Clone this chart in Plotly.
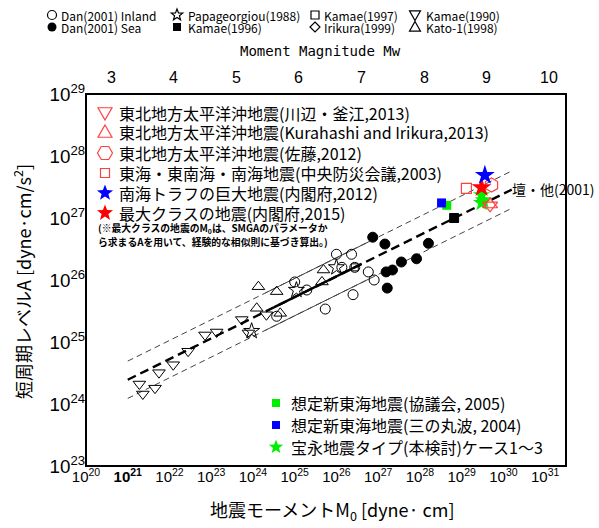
import numpy as np
import plotly.graph_objects as go

W, H = 599, 528
# plot frame in pixels
PX0, PX1 = 86, 566
PY0, PY1 = 94, 466

CJK = "Noto Sans CJK JP"
SANS = "Liberation Sans"
MONO = "DejaVu Sans Mono"

# ---------------- data ----------------
# Dan (2001) inland earthquakes
inland_m0 = [3.7e24, 1.0e25, 1.95e25, 5.4e25, 1.0e26, 2.3e26, 1.35e26, 2.75e26, 2.5e26, 5.8e26, 8.0e26]
inland_a = [2.6e25, 9.3e25, 6.9e25, 3.4e25, 2.6e26, 2.6e26, 1.6e26, 1.6e26, 5.8e25, 1.35e26, 1.0e26]
# Dan (2001) subduction (sea) earthquakes
sea_m0 = [7.4e26, 1.45e27, 1.6e28, 3.6e27, 8.3e27, 1.55e27, 2.2e27, 1.65e27]
sea_a = [4.9e26, 3.8e26, 3.9e26, 1.95e26, 2.2e26, 1.35e26, 1.45e26, 7.4e25]
# Papageorgiou (1988)
papa_m0 = [9.3e23, 1.1e25, 1.0e26]
papa_a = [1.5e25, 6.9e25, 1.6e26]
# Kato-1 (1998)
kato_m0 = [1.35e24, 1.23e24, 3.7e24, 4.5e24, 4.9e25, 4.5e25]
kato_a = [7.8e25, 3.5e25, 6.5e25, 2.9e25, 1.45e26, 9.3e25]
# Kamae (1990)
kamae90_m0 = [1.9e21, 2.3e21, 4.5e21, 5.6e21, 1.23e22, 2.8e22, 7.1e22, 1.35e23, 5.4e23, 7.8e23, 2.1e24]
kamae90_a = [2.1e24, 1.45e24, 1.8e24, 3.2e24, 4.3e24, 7.1e24, 1.3e25, 1.45e25, 2.3e25, 1.4e25, 2.75e25]
# Kamae (1997)
kamae97_m0 = [2.75e26]
kamae97_a = [1.6e26]
# Kamae (1996)
kamae96_m0 = [6.6e28]
kamae96_a = [1.0e27]

# large subduction events / scenarios
tohoku_kk_m0, tohoku_kk_a = [4.8e29], [1.6e27]      # 川辺・釜江 2013
tohoku_ki_m0, tohoku_ki_a = [4.8e29], [1.65e27]     # Kurahashi and Irikura 2013
tohoku_sato_m0, tohoku_sato_a = [5.2e29], [3.4e27]  # 佐藤 2012
chuo_m0, chuo_a = [1.3e29], [3.0e27]                # 中央防災会議 2003
cab2012_m0, cab2012_a = [3.6e29], [4.9e27]          # 内閣府 2012
cab2015_m0, cab2015_a = [3.0e29], [3.1e27]          # 内閣府 2015
kyogikai_m0, kyogikai_a = [4.4e28], [1.6e27]        # 協議会 2005
sannomaru_m0, sannomaru_a = [3.3e28], [1.75e27]     # 三の丸波 2004
hoei_m0 = [3.0e29, 3.3e29, 3.0e29]                  # 本検討 ケース1～3
hoei_a = [2.35e27, 1.95e27, 1.75e27]

# Dan et al. (2001): A = 2.46e17 * M0^(1/3), with factor-2 bounds
DAN_COEF = 2.46e17
DAN_FACTOR = 2.0
line_log_range = (21.0, 30.2)
solid_center = (24.5, 26.6)
solid_bounds = (24.3, 26.8)

# axes
log_x_range = [20, 31.5]
log_y_range = [23, 29]
x_tick_exp = list(range(20, 32))
x_tick_text = ["10<sup>%d</sup>" % k for k in x_tick_exp]
x_tick_text[1] = "<b>10<sup>21</sup></b>"
mw_ticks = list(range(3, 11))

RED_LT = "#ff4040"
GREEN = "#00ee00"
BLUE = "#0000ff"
RED = "#ff0000"
FRAME = "black"


def dan(m0, factor=1.0):
    return DAN_COEF * np.asarray(m0) ** (1.0 / 3.0) * factor


def seg(lo, hi):
    return np.logspace(lo, hi, 30)


def mw_to_logm0(mw):
    # Kanamori: log10 M0[dyne-cm] = 1.5 Mw + 16.1
    return 1.5 * mw + 16.1


fig = go.Figure()


def add(x, y, symbol, size, color="black", lw=1.0):
    fig.add_trace(go.Scatter(x=x, y=y, mode="markers", showlegend=False, cliponaxis=False,
                             marker=dict(symbol=symbol, size=size, color=color,
                                         line=dict(width=lw, color=color))))


def add_line(x, y, width, color, dash):
    fig.add_trace(go.Scatter(x=x, y=y, mode="lines", showlegend=False, hoverinfo="skip",
                             line=dict(width=width, color=color, dash=dash)))


# empirical relation lines
full = seg(*line_log_range)
add_line(full, dan(full, DAN_FACTOR), 1.0, "#444444", "6px,4px")
add_line(full, dan(full, 1 / DAN_FACTOR), 1.0, "#444444", "6px,4px")
add_line(full, dan(full), 2.4, "black", "9px,5px")
sb = seg(*solid_bounds)
add_line(sb, dan(sb, DAN_FACTOR), 1.0, "#444444", "solid")
add_line(sb, dan(sb, 1 / DAN_FACTOR), 1.0, "#444444", "solid")
sc = seg(*solid_center)
add_line(sc, dan(sc), 2.4, "black", "solid")

# catalogue data
add(kamae90_m0, kamae90_a, "triangle-down-open", 11)
add(kato_m0, kato_a, "triangle-up-open", 11)
add(papa_m0, papa_a, "star-open", 12)
add(inland_m0, inland_a, "circle-open", 10)
add(kamae97_m0, kamae97_a, "square-open", 7)
add(sea_m0, sea_a, "circle", 10)
add(kamae96_m0, kamae96_a, "square", 9)

# scenarios and large events
add(hoei_m0, hoei_a, "star", 13, GREEN, 0)
add(kyogikai_m0, kyogikai_a, "square", 9, GREEN, 0)
add(sannomaru_m0, sannomaru_a, "square", 9, BLUE, 0)
add(chuo_m0, chuo_a, "square-open", 10, RED_LT, 1.2)
add(tohoku_kk_m0, tohoku_kk_a, "triangle-down-open", 13, RED_LT, 1.2)
add(tohoku_ki_m0, tohoku_ki_a, "triangle-up-open", 13, RED_LT, 1.2)
add(tohoku_sato_m0, tohoku_sato_a, "hexagon-open", 14, RED_LT, 1.2)
add(cab2015_m0, cab2015_a, "star", 15, RED, 0)
add(cab2012_m0, cab2012_a, "star", 15, BLUE, 0)

shapes = []

# ---------------- frame and tick marks ----------------
shapes.append(dict(type="rect", xref="paper", yref="paper", x0=PX0 / W, x1=PX1 / W,
                   y0=1 - PY1 / H, y1=1 - PY0 / H, line=dict(color=FRAME, width=2), layer="above"))

MAJ, MIN = 7, 3.5
yb, yt = 1 - PY1 / H, 1 - PY0 / H
xl, xr = PX0 / W, PX1 / W


def log_ticks(lo, hi):
    major, minor = [], []
    for k in range(int(np.floor(lo)), int(np.ceil(hi)) + 1):
        if lo <= k <= hi:
            major.append(float(k))
        for d in range(2, 10):
            v = k + np.log10(d)
            if lo < v < hi:
                minor.append(v)
    return major, minor


def tick_x(v, length, top):
    # vertical tick at log-x position v, on the bottom or top edge
    if top:
        y0, y1 = yt, yt - length / H
    else:
        y0, y1 = yb, yb + length / H
    return dict(type="line", xref="x", yref="paper", x0=v, x1=v, y0=y0, y1=y1,
                line=dict(color=FRAME, width=1), layer="above")


def tick_y(v, length, right):
    if right:
        x0, x1 = xr, xr - length / W
    else:
        x0, x1 = xl, xl + length / W
    return dict(type="line", xref="paper", yref="y", x0=x0, x1=x1, y0=v, y1=v,
                line=dict(color=FRAME, width=1), layer="above")


xmaj, xmin = log_ticks(*log_x_range)
ymaj, ymin = log_ticks(*log_y_range)
for v in xmaj:
    shapes.append(tick_x(v, MAJ, False))
for v in xmin:
    shapes.append(tick_x(v, MIN, False))
    shapes.append(tick_x(v, MIN, True))
for mw in mw_ticks:
    shapes.append(tick_x(mw_to_logm0(mw), MAJ, True))
for v in ymaj:
    shapes.append(tick_y(v, MAJ, False))
    shapes.append(tick_y(v, MAJ, True))
for v in ymin:
    shapes.append(tick_y(v, MIN, False))
    shapes.append(tick_y(v, MIN, True))


# ------------- legend keys drawn as paper shapes (pixel input) -------------
def _pt(x, y):
    return "%.5f,%.5f" % (x / W, 1 - y / H)


def polygon(cx, cy, offsets):
    return "M" + " L".join(_pt(cx + dx, cy + dy) for dx, dy in offsets) + " Z"


def key_offsets(kind, s):
    h = s / 2.0
    if kind == "square":
        return [(-h, -h), (h, -h), (h, h), (-h, h)]
    if kind == "diamond":
        return [(0, -h), (h, 0), (0, h), (-h, 0)]
    if kind == "tri_up":
        return [(0, -h), (h, 0.75 * h), (-h, 0.75 * h)]
    if kind == "tri_down":
        return [(0, h), (h, -0.75 * h), (-h, -0.75 * h)]
    if kind == "hexagon":
        return [(h * np.cos(a), h * np.sin(a)) for a in np.radians(np.arange(0, 360, 60))]
    if kind == "star":
        pts = []
        for i in range(10):
            r = h if i % 2 == 0 else 0.42 * h
            a = np.radians(-90 + 36 * i)
            pts.append((r * np.cos(a), r * np.sin(a)))
        return pts
    raise ValueError(kind)


def key_shape(kind, cx, cy, s, color, filled):
    line = dict(color=color, width=0 if filled else 1.2)
    fill = color if filled else "rgba(0,0,0,0)"
    if kind == "circle":
        h = s / 2.0
        return dict(type="circle", xref="paper", yref="paper",
                    x0=(cx - h) / W, x1=(cx + h) / W, y0=1 - (cy + h) / H, y1=1 - (cy - h) / H,
                    line=line, fillcolor=fill, layer="above")
    return dict(type="path", xref="paper", yref="paper", path=polygon(cx, cy, key_offsets(kind, s)),
                line=line, fillcolor=fill, layer="above")


keys = [
    # top legend
    ("circle", 52, 15, 9, "black", False), ("circle", 52, 27, 9, "black", True),
    ("star", 177, 15, 12, "black", False), ("square", 177, 27, 8, "black", True),
    ("square", 315, 15, 8, "black", False), ("diamond", 315, 27, 10, "black", False),
    ("tri_down", 415, 15, 11, "black", False), ("tri_up", 415, 27, 11, "black", False),
    # upper-left legend
    ("tri_down", 105, 113, 14, RED_LT, False), ("tri_up", 105, 132, 14, RED_LT, False),
    ("hexagon", 105, 153, 15, RED_LT, False), ("square", 105, 173, 9, RED_LT, False),
    ("star", 105, 193, 17, BLUE, True), ("star", 105, 213, 17, RED, True),
    # lower-right legend
    ("square", 276, 403, 8, GREEN, True), ("square", 276, 425, 8, BLUE, True),
    ("star", 276, 447, 15, GREEN, True),
]
shapes += [key_shape(*k) for k in keys]


def ann(text, x, y, size, family=CJK, xanchor="left", color="black", **kw):
    return dict(text=text, x=x / W, y=1 - y / H, xref="paper", yref="paper", xanchor=xanchor,
                yanchor="middle", showarrow=False, font=dict(size=size, family=family, color=color), **kw)


annotations = [
    ann("Dan(2001) Inland", 59, 15, 12),
    ann("Dan(2001) Sea", 59, 27, 12),
    ann("Papageorgiou(1988)", 186, 15, 12),
    ann("Kamae(1996)", 186, 27, 12),
    ann("Kamae(1997)", 322, 15, 12),
    ann("Irikura(1999)", 322, 27, 12),
    ann("Kamae(1990)", 424, 15, 12),
    ann("Kato-1(1998)", 424, 27, 12),
    ann("Moment Magnitude Mw", 320, 51, 14, family=MONO, xanchor="center"),
    ann("東北地方太平洋沖地震(川辺・釜江,2013)", 117, 113, 16),
    ann("東北地方太平洋沖地震(Kurahashi and Irikura,2013)", 117, 132, 16),
    ann("東北地方太平洋沖地震(佐藤,2012)", 117, 153, 16),
    ann("東海・東南海・南海地震(中央防災会議,2003)", 117, 173, 16),
    ann("南海トラフの巨大地震(内閣府,2012)", 117, 193, 16),
    ann("最大クラスの地震(内閣府,2015)", 117, 213, 16),
    ann("<b>(※最大クラスの地震のM<sub>0</sub>は、SMGAのパラメータか</b>", 96, 228, 9.8),
    ann("<b>ら求まるAを用いて、経験的な相似則に基づき算出。)</b>", 96, 242, 9.8),
    ann("壇・他(2001)", 510, 189, 14),
    ann("想定新東海地震(協議会, 2005)", 289, 403, 16),
    ann("想定新東海地震(三の丸波, 2004)", 289, 425, 16),
    ann("宝永地震タイプ(本検討)ケース1～3", 289, 447, 16),
    ann("地震モーメントM<sub>0</sub> [dyne· cm]", 332, 510, 18, xanchor="center"),
    ann("短周期レベルA [dyne·cm/s<sup>2</sup>]", 22, 282, 18, xanchor="center", textangle=-90),
]
# moment-magnitude labels along the top edge
for mw in mw_ticks:
    annotations.append(dict(text=str(mw), x=mw_to_logm0(mw), xref="x", y=1 - 78 / H, yref="paper",
                            xanchor="center", yanchor="middle", showarrow=False,
                            font=dict(size=16, family=SANS, color="black")))

fig.update_layout(
    width=W, height=H,
    margin=dict(l=0, r=0, t=0, b=0, pad=0, autoexpand=False),
    paper_bgcolor="white", plot_bgcolor="white",
    showlegend=False,
    annotations=annotations,
    shapes=shapes,
    xaxis=dict(
        type="log", range=log_x_range, domain=[PX0 / W, PX1 / W], anchor="y", automargin=False,
        tickmode="array", tickvals=[10.0 ** k for k in x_tick_exp], ticktext=x_tick_text,
        ticks="", showline=False, showgrid=False, zeroline=False,
        tickfont=dict(size=15, family=SANS, color="black"),
    ),
    yaxis=dict(
        type="log", range=log_y_range, domain=[1 - PY1 / H, 1 - PY0 / H], anchor="x", automargin=False,
        dtick=1, exponentformat="power",
        ticks="", showline=False, showgrid=False, zeroline=False,
        tickfont=dict(size=15, family=SANS, color="black"),
    ),
)

fig.write_html("out.html")
